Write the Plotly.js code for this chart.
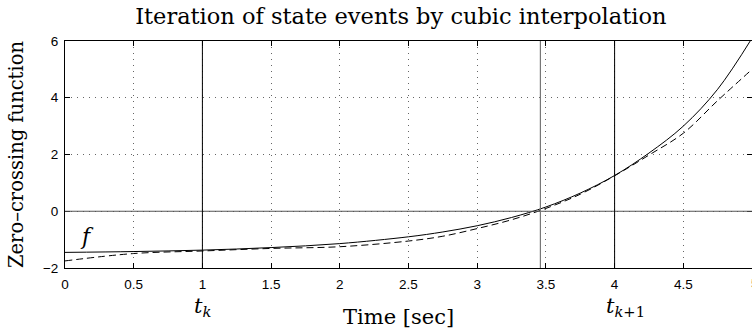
<!DOCTYPE html>
<html><head><meta charset="utf-8">
<script src="https://cdn.plot.ly/plotly-3.0.1.min.js"></script>
<style>html,body{margin:0;padding:0;background:#fff}#chart{width:752px;height:331px}</style>
</head><body><div id="chart"></div>
<script>
// True zero-crossing function f(t)
const timeTrue = [0, 0.5, 1, 1.5, 2, 2.5, 2.75, 3, 3.25, 3.5, 3.75, 4, 4.25, 4.5, 4.75, 5];
const fTrue = [-1.45, -1.42, -1.37, -1.28, -1.14, -0.90, -0.73, -0.51, -0.22, 0.15, 0.64, 1.26, 2.05, 3.0, 4.3, 6.1];
// Cubic interpolation (dashed)
const timeCubic = [0, 0.5, 1, 1.5, 2, 2.5, 2.75, 3, 3.25, 3.5, 3.75, 4, 4.25, 4.5, 4.75, 5];
const fCubic = [-1.75, -1.49, -1.40, -1.31, -1.25, -1.05, -0.88, -0.61, -0.30, 0.10, 0.60, 1.25, 1.98, 2.75, 3.9, 5.0];
// Event markers
const tk = 1, tk1 = 4, tEvent = 3.46;
const xTicks = [0, 0.5, 1, 1.5, 2, 2.5, 3, 3.5, 4, 4.5, 5];
const xTickText = ['0', '0.5', '1', '1.5', '2', '2.5', '3', '3.5', '4', '4.5', '5'];
const yTicks = [-2, 0, 2, 4, 6];
const yTickText = ['\u22122', '0', '2', '4', '6'];

const serif = 'DejaVu Serif, serif';
const sans = 'Liberation Sans, Arial, sans-serif';

const traces = [
  {x: timeTrue, y: fTrue, mode: 'lines', line: {color: '#000', width: 1, shape: 'spline', smoothing: 1}, hoverinfo: 'skip'},
  {x: timeCubic, y: fCubic, mode: 'lines', line: {color: '#000', width: 1, dash: '7px,4px', shape: 'spline', smoothing: 1}, hoverinfo: 'skip'}
];

const layout = {
  width: 752, height: 331,
  margin: {l: 65, r: 0, t: 41, b: 63},
  paper_bgcolor: '#fff', plot_bgcolor: '#fff',
  showlegend: false,
  title: {text: 'Iteration of state events by cubic interpolation', font: {family: serif, size: 22.5, color: '#000'}, x: 0.533, xanchor: 'center', y: 0.95, yanchor: 'middle'},
  xaxis: {
    range: [0, 5], tickvals: xTicks, ticktext: xTickText,
    ticks: 'inside', ticklen: 5, tickcolor: '#000', mirror: 'ticks',
    showline: true, linecolor: '#000', linewidth: 1,
    showgrid: true, gridcolor: '#666', griddash: '1px,5px', gridwidth: 1,
    zeroline: false, ticklabelstandoff: 4,
    tickfont: {family: sans, size: 13.5, color: '#000'}
  },
  yaxis: {
    range: [-2, 6], tickvals: yTicks, ticktext: yTickText,
    ticks: 'inside', ticklen: 5, tickcolor: '#000', mirror: 'ticks',
    showline: true, linecolor: '#000', linewidth: 1,
    showgrid: true, gridcolor: '#666', griddash: '1px,5px', gridwidth: 1,
    zeroline: false, ticklabelstandoff: 3,
    tickfont: {family: sans, size: 13.5, color: '#000'},
    title: {text: 'Zero\u2013crossing function', font: {family: serif, size: 19.5, color: '#000'}, standoff: 14}
  },
  shapes: [
    {type: 'line', xref: 'paper', x0: 0, x1: 1, yref: 'y', y0: 0, y1: 0, line: {color: '#555', width: 1.2}},
    {type: 'line', xref: 'x', x0: tk, x1: tk, yref: 'paper', y0: 0, y1: 1, line: {color: '#000', width: 1}},
    {type: 'line', xref: 'x', x0: tk1, x1: tk1, yref: 'paper', y0: 0, y1: 1, line: {color: '#000', width: 1}},
    {type: 'line', xref: 'x', x0: tEvent, x1: tEvent, yref: 'paper', y0: 0, y1: 1, line: {color: '#777', width: 1.2}}
  ],
  annotations: [
    {x: 0.485, xref: 'paper', y: -0.215, yref: 'paper', yanchor: 'middle', text: 'Time [sec]', showarrow: false, font: {family: serif, size: 21, color: '#000'}},
    {x: tk, xref: 'x', y: -0.105, yref: 'paper', yanchor: 'top', text: '<i>t</i><sub><i>k</i></sub>', showarrow: false, font: {family: serif, size: 21, color: '#000'}},
    {x: tk1 + 0.08, xref: 'x', y: -0.105, yref: 'paper', yanchor: 'top', text: '<i>t</i><sub><i>k</i>+1</sub>', showarrow: false, font: {family: serif, size: 21, color: '#000'}},
    {x: xTicks[10], xref: 'x', y: -0.025, yref: 'paper', yanchor: 'top', xanchor: 'left', xshift: -3, text: xTickText[10], showarrow: false, font: {family: sans, size: 13.5, color: '#000'}},
    {x: 0.16, xref: 'x', y: -0.9, yref: 'y', text: '<i>f</i>', showarrow: false, font: {family: serif, size: 22, color: '#000'}}
  ]
};

Plotly.newPlot('chart', traces, layout, {displayModeBar: false, staticPlot: true});
</script>
</body></html>
